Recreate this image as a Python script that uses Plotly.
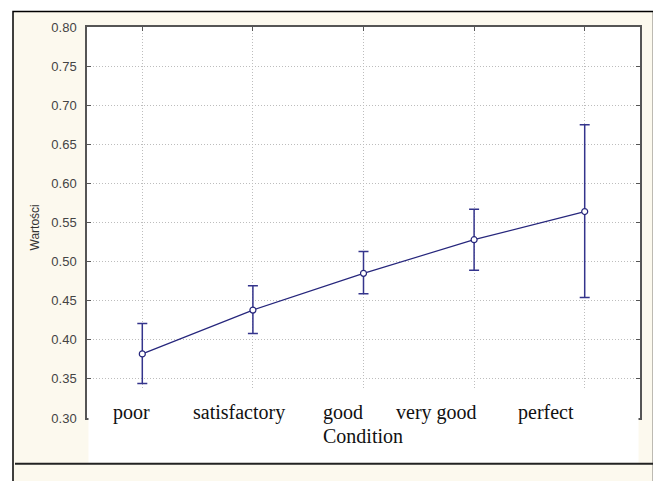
import plotly.graph_objects as go

# ---- data ----
categories = ["poor", "satisfactory", "good", "very good", "perfect"]
means = [0.382, 0.438, 0.485, 0.528, 0.564]
upper = [0.421, 0.469, 0.513, 0.567, 0.675]
lower = [0.344, 0.408, 0.459, 0.489, 0.454]
y_title = "Wartości"
x_title = "Condition"

# ---- layout geometry (screen pixels; page has an 8px body margin) ----
OFF = 8
W, H = 661 - OFF, 481 - OFF
PLOT_L, PLOT_R, PLOT_T, PLOT_B = 87, 640, 24, 418   # screen coords
L = PLOT_L - OFF
T = PLOT_T - OFF
R = W - (PLOT_R - OFF)
B = H - (PLOT_B - OFF)
PW, PH = PLOT_R - PLOT_L, PLOT_B - PLOT_T

def px(x):
    return (x - PLOT_L) / PW

def py(y):
    return (PLOT_B - y) / PH

xs = list(range(len(categories)))
err_plus = [u - m for u, m in zip(upper, means)]
err_minus = [m - l for m, l in zip(means, lower)]

navy = "#26267c"

fig = go.Figure()
fig.add_trace(go.Scatter(
    x=xs, y=means, mode="lines+markers",
    line=dict(color=navy, width=1.2),
    marker=dict(symbol="circle", size=6, color="white",
                line=dict(color=navy, width=1.2)),
    error_y=dict(type="data", symmetric=False, array=err_plus,
                 arrayminus=err_minus, color="#34348c",
                 thickness=1.5, width=5),
    showlegend=False, hoverinfo="skip",
))

fig.update_layout(
    width=W, height=H,
    margin=dict(l=L, r=R, t=T, b=B),
    paper_bgcolor="white",
    plot_bgcolor="white",
    font=dict(family="Arial, Liberation Sans, sans-serif", color="#444"),
)

grid_style = dict(showgrid=True, gridcolor="#bdbdbd", griddash="1px,2px",
                  gridwidth=1, zeroline=False)

fig.update_xaxes(
    range=[-0.5, len(categories) - 0.5],
    tickvals=xs, showticklabels=False,
    ticks="inside", ticklen=4, tickcolor="#555",
    showline=True, linecolor="#555", linewidth=1.5, mirror="ticks",
    **grid_style,
)
fig.update_yaxes(
    range=[0.30, 0.80], dtick=0.05, tick0=0.30, tickformat=".2f",
    ticks="inside", ticklen=4, tickcolor="#555",
    tickfont=dict(size=13, color="#444"),
    ticklabelstandoff=6,
    showline=True, linecolor="#555", linewidth=1.5, mirror="ticks",
    **grid_style,
)

shapes = [
    # cream frame with black border
    dict(type="rect", xref="paper", yref="paper", layer="below",
         x0=px(13), x1=px(653.5), y0=py(8.5), y1=py(500),
         fillcolor="#fcf9ee", line=dict(color="black", width=1.5)),
    # white plot area
    dict(type="rect", xref="paper", yref="paper", layer="below",
         x0=0, x1=1, y0=0, y1=1, fillcolor="white", line=dict(width=0)),
    # white box covering lower part (pasted labels)
    dict(type="rect", xref="paper", yref="paper", layer="above",
         x0=px(88.5), x1=px(638.5), y0=py(388), y1=py(463),
         fillcolor="white", line=dict(width=0)),
    # horizontal black rule
    dict(type="line", xref="paper", yref="paper", layer="above",
         x0=px(15), x1=px(653), y0=py(464), y1=py(464),
         line=dict(color="#222", width=2)),
]
fig.update_layout(shapes=shapes)

label_centers_px = [131.5, 239, 343, 436, 545.5]
annotations = []
for name, cx in zip(categories, label_centers_px):
    annotations.append(dict(
        text=name, xref="paper", yref="paper", x=px(cx), y=py(412),
        xanchor="center", yanchor="middle", showarrow=False,
        font=dict(family="Liberation Serif, Times New Roman, serif",
                  size=20, color="#111")))
annotations.append(dict(
    text=x_title, xref="paper", yref="paper", x=px(363), y=py(436),
    xanchor="center", yanchor="middle", showarrow=False,
    font=dict(family="Liberation Serif, Times New Roman, serif",
              size=20, color="#111")))
annotations.append(dict(
    text=y_title, xref="paper", yref="paper", x=px(35), y=py(226),
    xanchor="center", yanchor="middle", showarrow=False, textangle=-90,
    font=dict(family="Arial, Liberation Sans, sans-serif", size=12,
              color="#333")))
fig.update_layout(annotations=annotations)

fig.write_html("out.html")
